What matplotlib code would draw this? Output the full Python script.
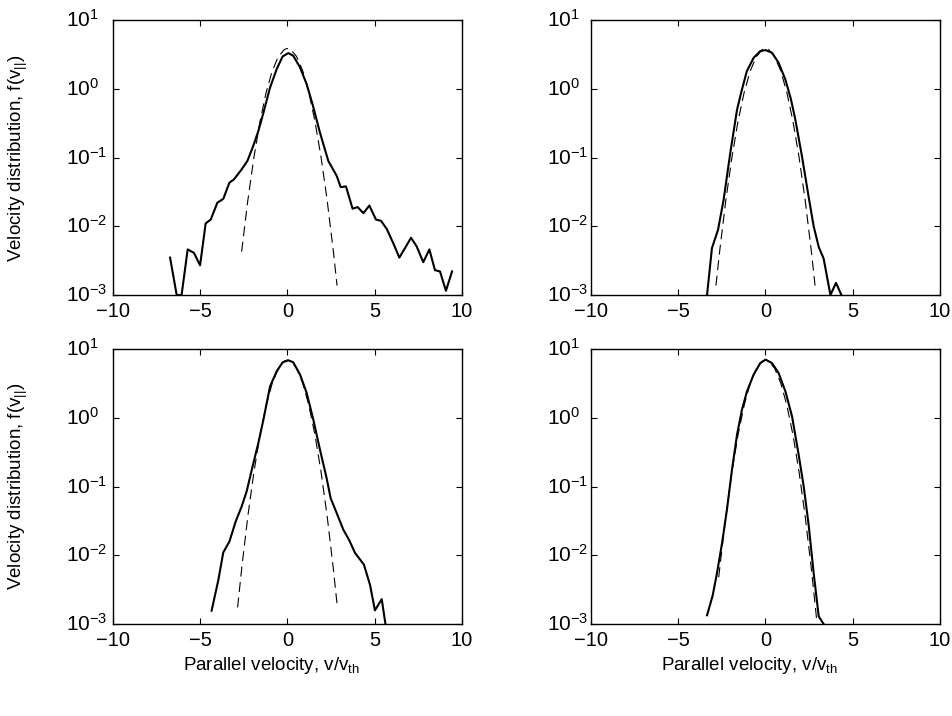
import matplotlib
matplotlib.use("Agg")
import matplotlib.pyplot as plt

plt.rcParams['font.family'] = ['Liberation Sans', 'DejaVu Sans']
plt.rcParams['mathtext.fontset'] = 'custom'
plt.rcParams['mathtext.rm'] = 'Liberation Sans'
plt.rcParams['mathtext.it'] = 'Liberation Sans:italic'
plt.rcParams['mathtext.default'] = 'regular'

# --- top left: solid (simulation) ---
tl_x = [-6.73, -6.35, -6.07, -5.72, -5.36, -5.01, -4.69, -4.40, -4.02, -3.68,
        -3.33, -3.07, -2.63, -2.30, -1.96, -1.67, -1.38, -1.00, -0.62, -0.28,
        0.05, 0.33, 0.72, 1.10, 1.44, 1.86, 2.34, 2.82, 3.05, 3.35,
        3.73, 4.02, 4.35, 4.69, 5.07, 5.36, 5.69, 6.07, 6.41, 6.73,
        7.08, 7.40, 7.78, 8.13, 8.45, 8.74, 9.08, 9.43]
tl_y = [3.5e-3, 1.0e-3, 1.0e-3, 4.6e-3, 4.1e-3, 2.7e-3, 1.1e-2, 1.25e-2, 2.2e-2, 2.5e-2,
        4.3e-2, 4.8e-2, 6.7e-2, 8.9e-2, 0.148, 0.243, 0.447, 1.04, 1.93, 2.95,
        3.30, 3.02, 2.04, 1.16, 0.59, 0.23, 8.9e-2, 5.4e-2, 3.7e-2, 3.8e-2,
        1.8e-2, 1.9e-2, 1.55e-2, 2.0e-2, 1.25e-2, 1.2e-2, 9.1e-3, 5.6e-3, 3.5e-3, 4.8e-3,
        6.8e-3, 5.1e-3, 3.0e-3, 4.6e-3, 2.3e-3, 2.2e-3, 1.15e-3, 2.2e-3]

# --- top right: solid ---
tr_x = [-3.35, -3.07, -2.72, -2.40, -2.02, -1.63, -1.35, -1.07, -0.68, -0.30,
        0.01, 0.37, 0.75, 1.14, 1.46, 1.71, 2.09, 2.47, 2.76, 3.05,
        3.33, 3.72, 4.04, 4.35]
tr_y = [1.0e-3, 4.8e-3, 8.9e-3, 2.43e-2, 0.116, 0.498, 0.975, 1.80, 2.82, 3.53,
        3.65, 3.34, 2.39, 1.36, 0.70, 0.356, 0.104, 2.7e-2, 1.0e-2, 5.0e-3,
        3.4e-3, 1.0e-3, 1.5e-3, 1.0e-3]

# --- bottom left: solid ---
bl_x = [-4.35, -3.96, -3.68, -3.33, -2.97, -2.63, -2.34, -2.00, -1.67, -1.38,
        -1.00, -0.62, -0.28, 0.05, 0.33, 0.72, 1.10, 1.48, 1.86, 2.24,
        2.47, 2.82, 3.20, 3.54, 3.87, 4.38, 4.73, 5.01, 5.40, 5.64]
bl_y = [1.56e-3, 4.4e-3, 1.1e-2, 1.58e-2, 3.1e-2, 5.1e-2, 8.5e-2, 0.196, 0.430, 0.937,
        2.86, 4.73, 6.40, 6.84, 6.40, 4.24, 2.29, 0.937, 0.344, 0.133,
        6.8e-2, 4.1e-2, 2.35e-2, 1.65e-2, 1.08e-2, 7.3e-3, 3.7e-3, 1.58e-3, 2.3e-3, 9.0e-4]

# --- bottom right: solid ---
br_x = [-3.35, -3.03, -2.78, -2.49, -2.21, -1.92, -1.63, -1.35, -1.06, -0.68,
        -0.30, 0.01, 0.37, 0.75, 1.14, 1.52, 1.90, 2.19, 2.47, 2.76,
        3.05, 3.33]
br_y = [1.34e-3, 2.58e-3, 5.5e-3, 1.5e-2, 4.6e-2, 0.176, 0.569, 1.31, 2.42, 4.24,
        6.25, 7.00, 6.25, 4.48, 2.42, 1.05, 0.29, 0.10, 2.8e-2, 5.5e-3,
        1.29e-3, 1.0e-3]

# --- Maxwellian fits (dashed) ---
mt_x = [-2.84, -2.63, -2.28, -1.93, -1.58, -1.23, -0.88, -0.53, -0.18, 0.0,
        0.17, 0.52, 0.87, 1.22, 1.57, 1.92, 2.27, 2.62, 2.84]
mt_y = [1.37e-3, 4.27e-3, 2.31e-2, 9.86e-2, 0.330, 0.869, 1.80, 2.92, 3.73, 3.86,
        3.75, 2.95, 1.83, 0.891, 0.340, 0.102, 2.42e-2, 4.49e-3, 1.37e-3]

mb_x = [-2.86, -2.68, -2.62, -2.27, -1.92, -1.57, -1.22, -0.87, -0.52, -0.17, 0.0,
        0.17, 0.52, 0.87, 1.22, 1.57, 1.92, 2.27, 2.62, 2.86, 2.95]
mb_y = [1.74e-3, 4.8e-3, 6.6e-3, 3.74e-2, 0.165, 0.569, 1.53, 3.21, 5.26, 6.72, 6.92,
        6.72, 5.26, 3.21, 1.53, 0.569, 0.165, 3.74e-2, 6.6e-3, 1.74e-3, 1.03e-3]

ylabel = r'Velocity distribution, f(v$_{||}$)'
xlabel = r'Parallel velocity, v/v$_{th}$'

fig = plt.figure(figsize=(9.53, 7.16), dpi=100)

W = 349 / 953
H = 275 / 716
boxes = [(113 / 953, 1 - 295 / 716), (591 / 953, 1 - 295 / 716),
         (113 / 953, 1 - 624 / 716), (591 / 953, 1 - 624 / 716)]
ypads = [34, 32, 34, 32]

panels = [
    (tl_x, tl_y, mt_x[1:], mt_y[1:]),
    (tr_x, tr_y, mt_x, mt_y),
    (bl_x, bl_y, mb_x[:1] + mb_x[2:-1], mb_y[:1] + mb_y[2:-1]),
    (br_x, br_y, mb_x[1:], mb_y[1:]),
]

for (l, b), ypad, (sx, sy, dx, dy) in zip(boxes, ypads, panels):
    ax = fig.add_axes([l, b, W, H])
    ax.semilogy(dx, dy, color='black', lw=0.8, linestyle=(0, (9, 5)))
    ax.semilogy(sx, sy, color='black', lw=1.5)
    ax.set_xlim(-10, 10)
    ax.set_ylim(1e-3, 10)
    ax.set_xticks([-10, -5, 0, 5, 10])
    ax.set_yticks([1e-3, 1e-2, 1e-1, 1e0, 1e1])
    ax.minorticks_off()
    ax.tick_params(direction='in', length=4, width=0.8, top=True, right=True, pad=5)
    ax.tick_params(axis='x', labelsize=14.5)
    # y labels: "10" starts at a fixed distance left of the axis
    ax.tick_params(axis='y', labelsize=15, pad=ypad)
    for t in ax.get_yticklabels():
        t.set_ha('left')
        t.set_va('center')
    for s in ax.spines.values():
        s.set_linewidth(1.0)

fig.text(18 / 953, 1 - 158 / 716, ylabel, rotation=90, ha='center', va='center', fontsize=13.5)
fig.text(18 / 953, 1 - 486 / 716, ylabel, rotation=90, ha='center', va='center', fontsize=13.5)
fig.text(271 / 953, 1 - 665 / 716, xlabel, ha='center', va='center', fontsize=13.5)
fig.text(749 / 953, 1 - 665 / 716, xlabel, ha='center', va='center', fontsize=13.5)

fig.savefig('out.png', dpi=100)
